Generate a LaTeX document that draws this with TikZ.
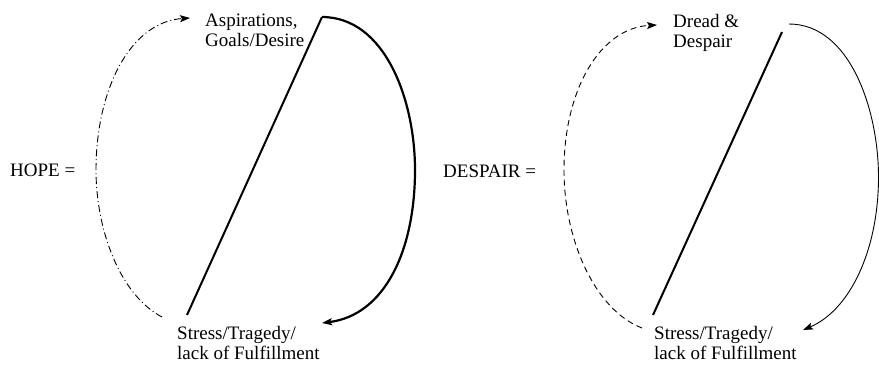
\documentclass[tikz,border=0pt]{standalone}
\usepackage{fontspec}
\setmainfont{Liberation Serif}
\usetikzlibrary{arrows.meta}
\begin{document}
\begin{tikzpicture}[x=1pt,y=1pt,
  lbl/.style={inner sep=0pt,align=left,font=\fontsize{19}{20}\selectfont},
  tip/.style={-{Stealth[length=10pt,width=7pt,inset=2pt]}},
  dashdotline/.style={line width=0.9pt,dash pattern=on 7pt off 3pt on 1pt off 3pt,tip},
  dashline/.style={line width=0.9pt,dash pattern=on 6pt off 4pt,tip},
  boldline/.style={line width=2pt},
  boldarc/.style={line width=2.2pt,tip},
  thinarc/.style={line width=0.9pt,tip}]
\useasboundingbox (0,0) rectangle (879,-365);
% left diagram
\node[lbl,anchor=base west] (hope) at (10,-176) {HOPE =};
\node[lbl,anchor=north west] (asp) at (205,-14) {Aspirations,\\Goals/Desire};
\node[lbl,anchor=north west] (stressL) at (177,-326) {Stress/Tragedy/\\lack of Fulfillment};
\coordinate (LT) at (322,-17);
\coordinate (LB) at (187,-315);
\coordinate (LA) at (322,-323);
\coordinate (LDs) at (162,-317);
\coordinate (LDe) at (190,-18);
\draw[boldline] (LT) -- (LB);
\draw[boldarc] (LT) .. controls (385,-17) and (415,-100) .. (415,-170)
  .. controls (415,-250) and (385,-315) .. (LA);
\draw[dashdotline] (LDs) .. controls (120,-295) and (96,-230) .. (96,-170)
  .. controls (96,-90) and (130,-22) .. (LDe);
% right diagram
\node[lbl,anchor=base west] (despair) at (443,-177) {DESPAIR =};
\node[lbl,anchor=north west] (dread) at (673,-14) {Dread \&\\Despair};
\node[lbl,anchor=north west] (stressR) at (654,-326) {Stress/Tragedy/\\lack of Fulfillment};
\coordinate (RT) at (782,-32);
\coordinate (RB) at (653,-315);
\coordinate (RAs) at (789,-24);
\coordinate (RAe) at (803,-330);
\coordinate (RDs) at (642,-328);
\coordinate (RDe) at (657,-25);
\draw[boldline] (RT) -- (RB);
\draw[thinarc] (RAs) .. controls (850,-24) and (878.5,-110) .. (878.5,-177)
  .. controls (878.5,-250) and (850,-310) .. (RAe);
\draw[dashline] (RDs) .. controls (595,-310) and (564,-240) .. (564,-170)
  .. controls (564,-90) and (600,-28) .. (RDe);
\end{tikzpicture}
\end{document}
